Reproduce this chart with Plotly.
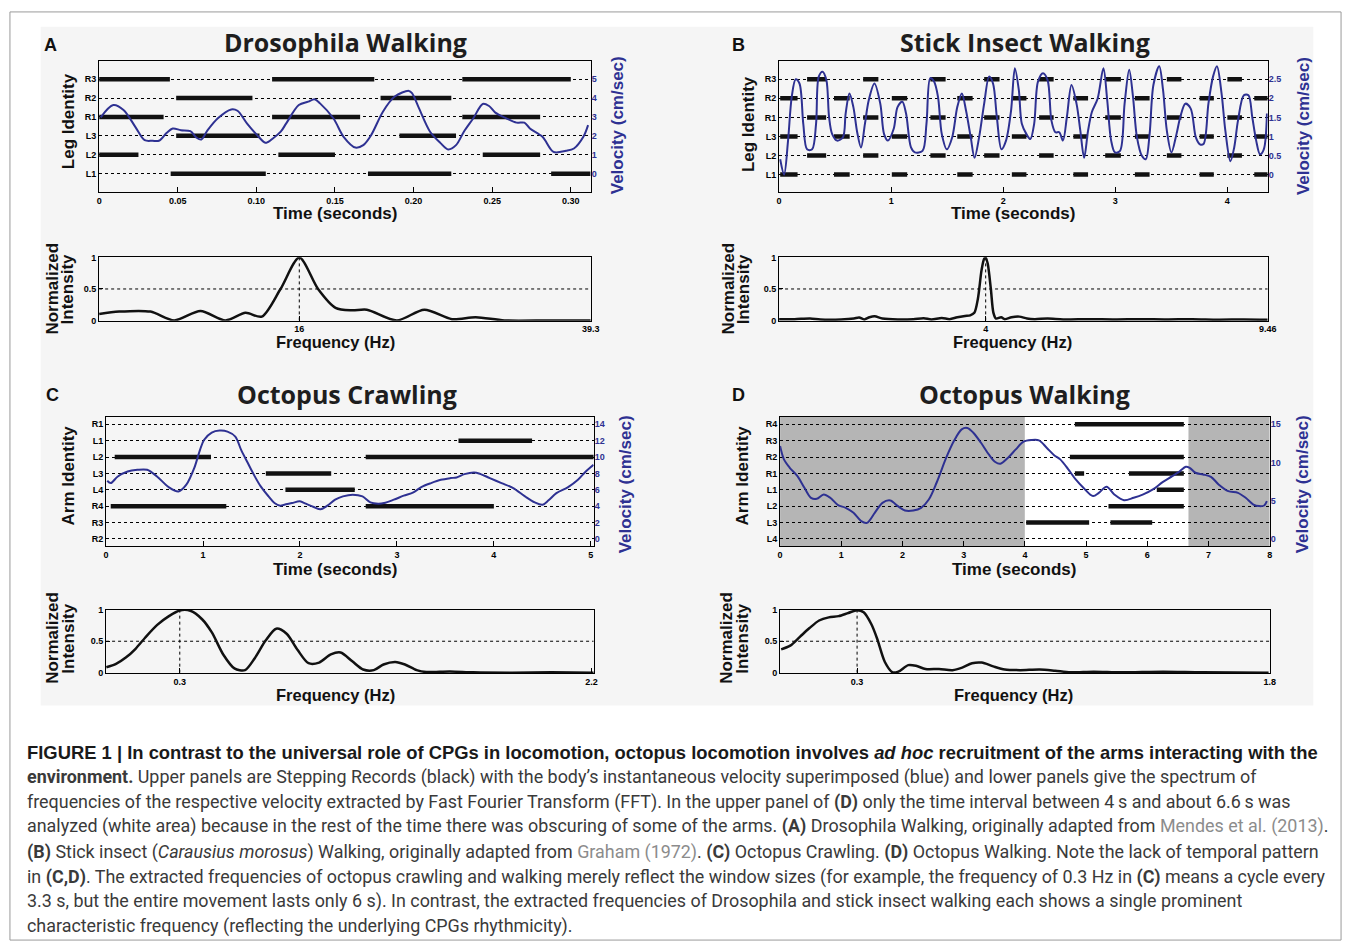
import plotly.graph_objects as go

W, H = 1357, 951
NAVY = "#2e3192"

# ---------------- DATA ----------------
# Panel A: Drosophila walking
A_rows = ["L1", "L2", "L3", "R1", "R2", "R3"]
A_steps = {
    "R3": [(0.0, 0.045), (0.110, 0.175), (0.231, 0.300)],
    "R2": [(0.049, 0.0975), (0.179, 0.224)],
    "R1": [(0.0, 0.041), (0.110, 0.166), (0.231, 0.2805)],
    "L3": [(0.049, 0.102), (0.191, 0.227)],
    "L2": [(0.0, 0.025), (0.114, 0.150), (0.244, 0.2805)],
    "L1": [(0.0455, 0.106), (0.171, 0.224), (0.2875, 0.3125)],
}
A_velocity = [(0.001, 2.98), (0.009, 3.63), (0.0155, 3.37), (0.023, 2.48), (0.029, 1.77), (0.034, 1.74),
              (0.038, 1.74), (0.043, 2.16), (0.0468, 2.39), (0.052, 2.30), (0.058, 2.25), (0.062, 1.90),
              (0.065, 1.81), (0.069, 2.30), (0.0755, 2.93), (0.084, 3.40), (0.088, 3.33), (0.094, 2.66),
              (0.1005, 2.04), (0.106, 1.63), (0.1105, 1.86), (0.1155, 2.22), (0.119, 2.66), (0.127, 3.63),
              (0.133, 3.81), (0.137, 3.94), (0.1405, 3.72), (0.149, 2.93), (0.1555, 1.95), (0.163, 1.38),
              (0.168, 1.51), (0.173, 2.04), (0.1805, 3.28), (0.188, 4.08), (0.197, 4.38), (0.199, 4.26),
              (0.203, 3.55), (0.2105, 2.22), (0.217, 1.63), (0.222, 1.28), (0.227, 1.51), (0.232, 2.22),
              (0.238, 2.93), (0.244, 3.69), (0.248, 3.58), (0.252, 3.23), (0.259, 2.93), (0.2655, 2.70),
              (0.2705, 2.70), (0.274, 2.39), (0.282, 1.95), (0.289, 1.15), (0.297, 1.21), (0.302, 1.33),
              (0.308, 1.95), (0.311, 2.57)]
A_vel_ticks = [0, 1, 2, 3, 4, 5]
A_time_ticks = [0, 0.05, 0.10, 0.15, 0.20, 0.25, 0.30]
A_time_text = ["0", "0.05", "0.10", "0.15", "0.20", "0.25", "0.30"]
A_spectrum = [(0.0, 0.10), (1.6, 0.14), (4.1, 0.14), (6.0, 0.0), (8.1, 0.15), (10.1, 0.0), (11.7, 0.12),
              (13.0, 0.06), (14.5, 0.5), (16.0, 1.0), (17.5, 0.5), (18.9, 0.2), (20.2, 0.16), (21.4, 0.17),
              (23.8, 0.0), (26.0, 0.17), (28.2, 0.02), (30.1, 0.05), (32.4, 0.0), (36.0, 0.0), (39.3, 0.0)]
A_peak = 16
A_freq_ticks = [16, 39.3]

# Panel B: stick insect walking
B_rows = ["L1", "L2", "L3", "R1", "R2", "R3"]
B_group1 = [(0.25, 0.42), (0.75, 0.886), (1.35, 1.486), (1.83, 1.967), (2.32, 2.45), (2.91, 3.05),
            (3.46, 3.59), (4.0, 4.13)]
B_group2 = [(0.01, 0.165), (0.49, 0.63), (1.006, 1.143), (1.59, 1.727), (2.077, 2.207), (2.626, 2.757),
            (3.175, 3.306), (3.752, 3.879), (4.24, 4.36)]
B_steps = {"R3": B_group1, "R1": B_group1, "L2": B_group1,
           "R2": B_group2, "L3": B_group2, "L1": B_group2}
B_velocity = [(0.01, 0.4), (0.045, 0.0), (0.08, 0.89), (0.113, 2.04), (0.148, 2.5), (0.182, 2.39),
              (0.216, 1.33), (0.25, 0.66), (0.295, 0.66), (0.33, 1.33), (0.354, 2.57), (0.388, 2.7),
              (0.422, 2.48), (0.446, 1.51), (0.474, 1.06), (0.518, 0.89), (0.57, 0.98), (0.594, 1.6),
              (0.628, 2.13), (0.663, 1.77), (0.697, 1.11), (0.731, 0.71), (0.766, 1.33), (0.8, 1.95),
              (0.851, 2.39), (0.903, 1.86), (0.937, 1.06), (0.971, 0.89), (1.023, 1.2), (1.057, 1.77),
              (1.1, 1.91), (1.133, 1.6), (1.177, 0.71), (1.212, 0.58), (1.28, 0.62), (1.315, 1.33),
              (1.349, 2.53), (1.383, 2.44), (1.418, 2.04), (1.452, 1.06), (1.497, 0.66), (1.545, 0.98),
              (1.59, 1.77), (1.631, 2.13), (1.668, 1.68), (1.71, 0.98), (1.744, 0.44), (1.785, 0.98),
              (1.83, 1.86), (1.874, 2.57), (1.909, 2.39), (1.943, 1.51), (1.984, 0.66), (2.025, 0.89),
              (2.07, 1.68), (2.104, 2.79), (2.139, 2.22), (2.166, 1.33), (2.207, 1.06), (2.242, 0.93),
              (2.276, 1.33), (2.31, 2.44), (2.355, 2.66), (2.396, 2.48), (2.43, 1.42), (2.465, 1.11),
              (2.5, 1.11), (2.533, 0.89), (2.568, 1.51), (2.609, 2.35), (2.654, 1.86), (2.688, 1.15),
              (2.722, 0.44), (2.757, 1.15), (2.791, 1.64), (2.842, 1.99), (2.894, 2.79), (2.928, 1.95),
              (2.963, 0.89), (2.997, 0.58), (3.042, 0.62), (3.083, 1.86), (3.124, 2.75), (3.158, 2.04),
              (3.193, 0.98), (3.237, 0.49), (3.272, 0.4), (3.306, 1.06), (3.34, 2.35), (3.392, 2.84),
              (3.426, 2.22), (3.46, 1.15), (3.501, 0.58), (3.546, 1.06), (3.58, 1.51), (3.625, 1.86),
              (3.673, 1.73), (3.718, 0.98), (3.752, 0.8), (3.787, 0.8), (3.831, 1.86), (3.872, 2.57),
              (3.907, 2.84), (3.948, 2.13), (3.982, 1.15), (4.027, 0.35), (4.061, 0.71), (4.095, 1.42),
              (4.147, 2.08), (4.188, 2.08), (4.222, 1.51), (4.257, 0.89), (4.291, 0.53), (4.325, 0.66),
              (4.353, 1.6)]
B_vel_ticks = [0, 0.5, 1, 1.5, 2, 2.5]
B_time_ticks = [0, 1, 2, 3, 4]
B_spectrum = [(0.0, 0.02), (0.3, 0.02), (0.6, 0.03), (0.8, 0.015), (1.2, 0.015), (1.45, 0.03), (1.55, 0.045),
              (1.65, 0.015), (1.75, 0.05), (1.85, 0.065), (2.0, 0.03), (2.3, 0.015), (2.6, 0.02), (2.8, 0.035),
              (2.95, 0.015), (3.15, 0.04), (3.3, 0.02), (3.45, 0.05), (3.6, 0.07), (3.7, 0.08), (3.78, 0.12),
              (3.85, 0.35), (3.92, 0.8), (3.97, 0.98), (4.0, 1.0), (4.04, 0.9), (4.1, 0.5), (4.15, 0.12),
              (4.2, 0.03), (4.3, 0.05), (4.37, 0.02), (4.5, 0.05), (4.65, 0.06), (4.8, 0.03), (4.95, 0.02),
              (5.2, 0.03), (5.5, 0.015), (6.0, 0.02), (6.5, 0.015), (7.0, 0.02), (7.5, 0.015), (8.0, 0.02),
              (8.5, 0.012), (9.0, 0.015), (9.46, 0.01)]
B_peak = 4
B_freq_ticks = [4, 9.46]

# Panel C: octopus crawling
C_rows = ["R2", "R3", "R4", "L4", "L3", "L2", "L1", "R1"]
C_steps = {
    "L1": [(3.635, 4.394)],
    "L2": [(0.089, 1.082), (2.678, 5.03)],
    "L3": [(1.648, 2.322)],
    "L4": [(1.85, 2.565)],
    "R4": [(0.048, 1.24), (2.678, 4.0)],
}
C_velocity = [(0.012, 7.1), (0.048, 6.82), (0.121, 7.63), (0.222, 8.24), (0.323, 8.44), (0.424, 8.44),
              (0.525, 7.63), (0.646, 6.33), (0.747, 5.8), (0.828, 6.62), (0.909, 8.64), (0.969, 10.88),
              (1.01, 12.09), (1.09, 12.99), (1.171, 13.23), (1.252, 13.11), (1.333, 12.5), (1.393, 10.88),
              (1.454, 9.46), (1.515, 8.04), (1.595, 6.41), (1.676, 5.19), (1.737, 4.38), (1.797, 4.06),
              (1.838, 4.18), (1.918, 4.38), (1.999, 4.59), (2.06, 4.3), (2.141, 3.9), (2.213, 3.61),
              (2.282, 4.06), (2.363, 4.79), (2.443, 5.19), (2.544, 5.4), (2.645, 5.19), (2.726, 4.46),
              (2.807, 4.3), (2.868, 4.38), (2.968, 4.79), (3.07, 5.28), (3.17, 5.68), (3.251, 6.33),
              (3.352, 6.82), (3.453, 7.22), (3.554, 7.43), (3.615, 7.51), (3.696, 7.91), (3.796, 8.12),
              (3.857, 7.95), (3.958, 7.43), (4.079, 6.82), (4.2, 6.21), (4.321, 5.19), (4.422, 4.46),
              (4.503, 4.18), (4.564, 4.71), (4.645, 5.6), (4.766, 6.33), (4.867, 7.22), (4.948, 8.24),
              (5.028, 9.05)]
C_vel_ticks = [0, 2, 4, 6, 8, 10, 12, 14]
C_time_ticks = [0, 1, 2, 3, 4, 5]
C_spectrum = [(-0.039, 0.087), (0.006, 0.14), (0.051, 0.24), (0.096, 0.38), (0.141, 0.56), (0.196, 0.76),
              (0.25, 0.9), (0.3, 0.99), (0.349, 0.985), (0.403, 0.85), (0.448, 0.64), (0.502, 0.28),
              (0.552, 0.067), (0.601, 0.04), (0.646, 0.23), (0.696, 0.51), (0.745, 0.7), (0.793, 0.62),
              (0.844, 0.36), (0.894, 0.15), (0.943, 0.16), (0.997, 0.29), (1.042, 0.32), (1.096, 0.18),
              (1.146, 0.05), (1.195, 0.04), (1.24, 0.13), (1.294, 0.17), (1.339, 0.13), (1.393, 0.04),
              (1.438, 0.01), (1.546, 0.02), (1.654, 0.005), (1.834, 0.0), (2.014, 0.005), (2.21, 0.0)]
C_peak = 0.3
C_freq_ticks = [0.3, 2.2]

# Panel D: octopus walking
D_rows = ["L4", "L3", "L2", "L1", "R1", "R2", "R3", "R4"]
D_steps = {
    "R4": [(4.817, 6.597)],
    "R2": [(4.735, 6.597)],
    "R1": [(4.817, 4.968), (5.70, 6.597)],
    "L1": [(6.155, 6.597)],
    "L2": [(5.366, 6.597)],
    "L3": [(4.021, 5.05), (5.398, 6.08)],
}
D_obscured = [(0.0, 4.0), (6.67, 8.0)]
D_analyzed = (4.0, 6.67)
D_velocity = [(0.0, 12.16), (0.063, 10.41), (0.158, 9.31), (0.284, 8.22), (0.398, 6.69), (0.505, 5.38),
              (0.6, 5.25), (0.713, 5.82), (0.82, 5.38), (0.947, 4.42), (1.073, 4.07), (1.2, 3.41),
              (1.326, 2.32), (1.42, 2.1), (1.547, 3.41), (1.673, 4.72), (1.8, 5.03), (1.925, 4.29),
              (2.04, 3.72), (2.178, 3.72), (2.304, 4.07), (2.43, 5.16), (2.557, 7.35), (2.715, 10.63),
              (2.84, 12.81), (2.967, 14.34), (3.06, 14.52), (3.157, 13.9), (3.283, 12.59), (3.41, 11.06),
              (3.516, 10.06), (3.6, 9.84), (3.725, 10.63), (3.851, 11.72), (3.977, 12.72), (4.104, 12.94),
              (4.23, 12.9), (4.356, 11.94), (4.482, 10.93), (4.577, 10.41), (4.703, 9.18), (4.83, 7.78),
              (4.956, 6.69), (5.114, 5.6), (5.208, 6.03), (5.335, 6.82), (5.461, 5.82), (5.619, 5.07),
              (5.777, 5.38), (5.934, 5.82), (6.092, 6.47), (6.25, 7.43), (6.408, 8.22), (6.534, 8.88),
              (6.629, 9.44), (6.692, 9.31), (6.787, 8.66), (6.913, 8.44), (7.04, 8.13), (7.165, 7.13),
              (7.323, 6.25), (7.481, 6.03), (7.607, 5.38), (7.734, 4.5), (7.828, 4.29), (7.91, 4.37),
              (7.954, 4.94)]
D_vel_ticks = [0, 5, 10, 15]
D_time_ticks = [0, 1, 2, 3, 4, 5, 6, 7, 8]
D_spectrum = [(0.024, 0.37), (0.057, 0.43), (0.092, 0.57), (0.127, 0.71), (0.162, 0.83), (0.197, 0.88),
              (0.233, 0.9), (0.268, 0.95), (0.3, 0.995), (0.324, 0.96), (0.352, 0.77), (0.373, 0.54),
              (0.401, 0.17), (0.429, 0.005), (0.45, 0.016), (0.486, 0.12), (0.514, 0.11), (0.549, 0.058),
              (0.598, 0.058), (0.647, 0.04), (0.682, 0.08), (0.718, 0.15), (0.753, 0.16), (0.795, 0.1),
              (0.837, 0.05), (0.893, 0.04), (0.964, 0.05), (1.02, 0.03), (1.076, 0.005), (1.16, 0.016),
              (1.259, 0.005), (1.413, 0.016), (1.554, 0.005), (1.796, 0.0)]
D_peak = 0.3
D_freq_ticks = [0.3, 1.8]

INTENSITY_TICKS = [0, 0.5, 1]

CAPTION = [
    "<b>FIGURE 1 | In contrast to the universal role of CPGs in locomotion, octopus locomotion involves <i>ad hoc</i> recruitment of the arms interacting with the</b>",
    "<b>environment.</b> Upper panels are Stepping Records (black) with the body\u2019s instantaneous velocity superimposed (blue) and lower panels give the spectrum of",
    "frequencies of the respective velocity extracted by Fast Fourier Transform (FFT). In the upper panel of <b>(D)</b> only the time interval between 4\u2009s and about 6.6\u2009s was",
    "analyzed (white area) because in the rest of the time there was obscuring of some of the arms. <b>(A)</b> Drosophila Walking, originally adapted from <span style='color:#8c8c8c'>Mendes et al. (2013)</span>.",
    "<b>(B)</b> Stick insect (<i>Carausius morosus</i>) Walking, originally adapted from <span style='color:#8c8c8c'>Graham (1972)</span>. <b>(C)</b> Octopus Crawling. <b>(D)</b> Octopus Walking. Note the lack of temporal pattern",
    "in <b>(C,D)</b>. The extracted frequencies of octopus crawling and walking merely reflect the window sizes (for example, the frequency of 0.3 Hz in <b>(C)</b> means a cycle every",
    "3.3 s, but the entire movement lasts only 6 s). In contrast, the extracted frequencies of Drosophila and stick insect walking each shows a single prominent",
    "characteristic frequency (reflecting the underlying CPGs rhythmicity).",
]

# ---------------- LAYOUT HELPERS ----------------
def dx(l, r):
    return [l / W, r / W]

def dy(t, b):
    return [1 - b / H, 1 - t / H]

def px(x):
    return x / W

def py(y):
    return 1 - y / H

TICKFONT = dict(family="Liberation Sans", size=9, color="black", weight="bold")
fig = go.Figure()
layout = {}
annotations = []
shapes = []


def upper_panel(idx_x, idx_yl, idx_yr, box, xrange, xticks, xtext, rows, yrange, vticks, vscale,
                steps, velocity):
    l, r, t, b = box
    xn, yl, yr = f"xaxis{idx_x}", f"yaxis{idx_yl}", f"yaxis{idx_yr}"
    xs, yls, yrs = f"x{idx_x}", f"y{idx_yl}", f"y{idx_yr}"
    layout[xn] = dict(domain=dx(l, r), range=xrange, anchor=yls, tickvals=xticks, ticktext=xtext,
                      ticks="inside", ticklen=5, tickcolor="black", showline=True, mirror=True,
                      linecolor="black", linewidth=1, showgrid=False, zeroline=False, tickfont=TICKFONT,
                      fixedrange=True)
    layout[yl] = dict(domain=dy(t, b), range=yrange, anchor=xs, tickvals=list(range(len(rows))),
                      ticktext=rows, showgrid=True, gridcolor="black", griddash="dot", gridwidth=1,
                      showline=True, mirror=True, linecolor="black", linewidth=1, ticks="",
                      zeroline=False, tickfont=TICKFONT, fixedrange=True)
    layout[yr] = dict(overlaying=yls, side="right", anchor=xs, range=[v * vscale for v in yrange],
                      tickvals=vticks, showgrid=False, zeroline=False, showline=False, ticks="",
                      tickfont=dict(family="Liberation Sans", size=9, color=NAVY, weight="bold"),
                      fixedrange=True)
    # stepping bars
    bx, by = [], []
    for i, row in enumerate(rows):
        for s, e in steps.get(row, []):
            bx += [s, e, None]
            by += [i, i, None]
    fig.add_trace(go.Scatter(x=bx, y=by, xaxis=xs, yaxis=yls, mode="lines",
                             line=dict(color="#111111", width=4.5), hoverinfo="skip", showlegend=False))
    vt = [p[0] for p in velocity]
    vv = [p[1] for p in velocity]
    fig.add_trace(go.Scatter(x=vt, y=vv, xaxis=xs, yaxis=yrs, mode="lines",
                             line=dict(color=NAVY, width=2, shape="spline", smoothing=0.9),
                             showlegend=False))


def spec_panel(idx_x, idx_y, box, xrange, fticks, peak, spectrum):
    l, r, t, b = box
    xn, yn = f"xaxis{idx_x}", f"yaxis{idx_y}"
    xs, ys = f"x{idx_x}", f"y{idx_y}"
    layout[xn] = dict(domain=dx(l, r), range=xrange, anchor=ys, tickvals=fticks,
                      ticktext=[f"{v:g}" for v in fticks], ticks="inside", ticklen=5, tickcolor="black",
                      showline=True, mirror=True, linecolor="black", linewidth=1, showgrid=False,
                      zeroline=False, tickfont=TICKFONT, fixedrange=True)
    layout[yn] = dict(domain=dy(t, b), range=[-0.004, 1.004], anchor=xs, tickvals=INTENSITY_TICKS,
                      ticktext=[f"{v:g}" for v in INTENSITY_TICKS], ticks="inside", ticklen=4,
                      tickcolor="black", showline=True, mirror=True, linecolor="black", linewidth=1,
                      showgrid=False, zeroline=False, tickfont=TICKFONT, fixedrange=True)
    fig.add_trace(go.Scatter(x=[xrange[0], xrange[1]], y=[0.5, 0.5], xaxis=xs, yaxis=ys, mode="lines",
                             line=dict(color="black", width=1, dash="dot"), hoverinfo="skip",
                             showlegend=False))
    fig.add_trace(go.Scatter(x=[peak, peak], y=[0, 1], xaxis=xs, yaxis=ys, mode="lines",
                             line=dict(color="black", width=1, dash="dot"), hoverinfo="skip",
                             showlegend=False))
    fig.add_trace(go.Scatter(x=[p[0] for p in spectrum], y=[p[1] for p in spectrum], xaxis=xs, yaxis=ys,
                             mode="lines", line=dict(color="#111111", width=2.5, shape="spline",
                                                     smoothing=0.8), showlegend=False))


def text(x, y, s, size=17, color="#111111", family="Liberation Sans", angle=0, weight="bold",
         xanchor="center"):
    annotations.append(dict(x=px(x), y=py(y), xref="paper", yref="paper", text=s, showarrow=False,
                            textangle=angle, xanchor=xanchor, yanchor="middle",
                            font=dict(family=family, size=size, color=color, weight=weight)))


# ---------------- BACKGROUND ----------------
shapes.append(dict(type="rect", xref="paper", yref="paper", x0=px(7), x1=px(1350), y0=py(945), y1=py(7),
                   line=dict(color="#9a9a9a", width=1), fillcolor="white", layer="below"))
shapes.append(dict(type="rect", xref="paper", yref="paper", x0=px(38), x1=px(1322), y0=py(708), y1=py(22),
                   line=dict(width=0), fillcolor="#f5f5f5", layer="below"))

# ---------------- PANELS ----------------
upper_panel(1, 1, 2, (97, 593, 57, 189), [0, 0.3127], A_time_ticks, A_time_text, A_rows,
            [-0.97, 5.94], A_vel_ticks, 1.0, A_steps, A_velocity)
spec_panel(2, 3, (97, 593, 255, 319), [0, 39.3], A_freq_ticks, A_peak, A_spectrum)

upper_panel(3, 4, 5, (783, 1276, 57, 189), [0, 4.36], B_time_ticks, [str(v) for v in B_time_ticks],
            B_rows, [-0.92, 5.94], B_vel_ticks, 0.5, B_steps, B_velocity)
spec_panel(4, 6, (783, 1276, 255, 319), [0, 9.46], B_freq_ticks, B_peak, B_spectrum)

upper_panel(5, 7, 8, (104, 596, 416, 547), [0, 5.03], C_time_ticks, [str(v) for v in C_time_ticks],
            C_rows, [-0.45, 7.47], C_vel_ticks, 2.0, C_steps, C_velocity)
spec_panel(6, 9, (104, 596, 611, 675), [-0.04, 2.21], C_freq_ticks, C_peak, C_spectrum)

upper_panel(7, 10, 11, (784, 1278, 416, 547), [0, 8], D_time_ticks, [str(v) for v in D_time_ticks],
            D_rows, [-0.45, 7.47], D_vel_ticks, 15 / 7, D_steps, D_velocity)
spec_panel(8, 12, (784, 1278, 611, 675), [0.02, 1.8], D_freq_ticks, D_peak, D_spectrum)

for s, e in D_obscured:
    shapes.append(dict(type="rect", xref="x7", yref="y10 domain", x0=s, x1=e, y0=0, y1=1,
                       fillcolor="#b5b5b5", line=dict(width=0), layer="below"))
shapes.append(dict(type="rect", xref="x7", yref="y10 domain", x0=D_analyzed[0], x1=D_analyzed[1], y0=0, y1=1,
                   fillcolor="white", line=dict(width=0), layer="below"))

# ---------------- TEXT ----------------
TITLE_FONT = "Open Sans"
for (x, y, s) in [(346, 37, "Drosophila Walking"), (1031, 37, "Stick Insect Walking"),
                  (347, 393, "Octopus Crawling"), (1031, 393, "Octopus Walking")]:
    text(x, y, s, size=25, family=TITLE_FONT, color="#1e1e1e")
for (x, y, s) in [(48, 40, "A"), (742, 40, "B"), (50, 394, "C"), (742, 394, "D")]:
    text(x, y, s, size=18, color="#111111")

text(66, 117, "Leg Identity", angle=-90)
text(752, 120, "Leg Identity", angle=-90)
text(66, 475, "Arm Identity", angle=-90)
text(746, 475, "Arm Identity", angle=-90)
text(620, 122, "Velocity (cm/sec)", angle=-90, color=NAVY)
text(1312, 122, "Velocity (cm/sec)", angle=-90, color=NAVY)
text(628, 484, "Velocity (cm/sec)", angle=-90, color=NAVY)
text(1312, 484, "Velocity (cm/sec)", angle=-90, color=NAVY)
for (x, y) in [(335, 211), (1019, 211), (335, 570), (1020, 570)]:
    text(x, y, "Time (seconds)")
for (x, y) in [(335, 341), (1019, 341), (335, 697), (1020, 697)]:
    text(x, y, "Frequency (Hz)", size=16.5)
for (x, y) in [(50, 287), (732, 287), (50, 640), (730, 640)]:
    text(x, y, "Normalized", angle=-90)
    text(x + 16, y, "Intensity", angle=-90)

cap_y = [755, 780, 805, 830, 856, 881, 906, 931]
for i, (line, y) in enumerate(zip(CAPTION, cap_y)):
    if i == 0:
        text(22, y, line, size=18.4, family="Liberation Sans", color="#1a1a1a", weight="normal",
             xanchor="left")
    else:
        text(22, y, line, size=17.9, family="Roboto", color="#3a3a3a", weight="normal", xanchor="left")

fig.update_layout(width=W, height=H, margin=dict(l=0, r=0, t=0, b=0), paper_bgcolor="white",
                  plot_bgcolor="rgba(0,0,0,0)", showlegend=False, annotations=annotations, shapes=shapes,
                  **layout)
PIN = ("document.documentElement.style.margin='0';document.body.style.margin='0';"
       "document.body.style.overflow='hidden';"
       "var gd=document.getElementsByClassName('plotly-graph-div')[0];"
       "gd.style.position='fixed';gd.style.left='0px';gd.style.top='0px';")
fig.write_html("out.html", config={"displayModeBar": False}, post_script=PIN)
